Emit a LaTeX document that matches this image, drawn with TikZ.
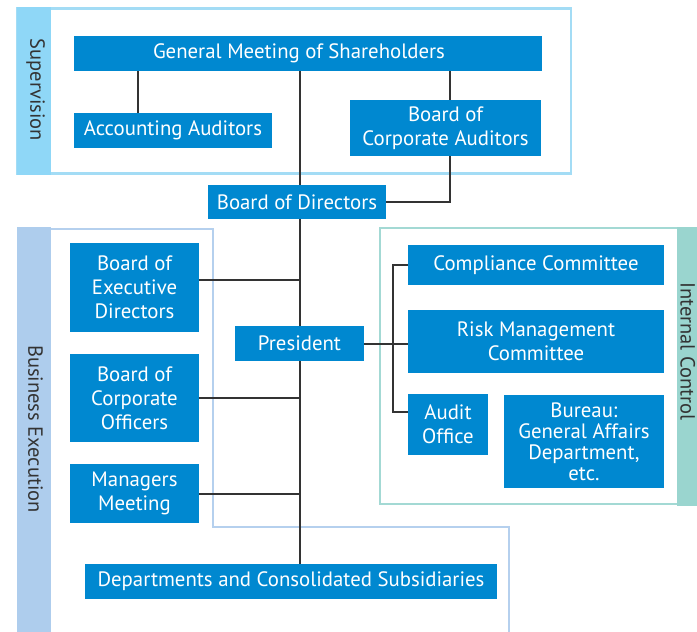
\documentclass[tikz,border=0pt]{standalone}
\usepackage{fontspec}
\setmainfont{PT Sans}
\definecolor{boxblue}{HTML}{0088D0}
\definecolor{supband}{HTML}{8FD7F7}
\definecolor{supline}{HTML}{A3DCF5}
\definecolor{beband}{HTML}{AECDED}
\definecolor{beline}{HTML}{B5D0EE}
\definecolor{icband}{HTML}{9AD5CF}
\definecolor{icline}{HTML}{A3D9D4}
\definecolor{linegray}{HTML}{333333}
\definecolor{labelgray}{HTML}{333333}
\begin{document}
\begin{tikzpicture}[x=1pt,y=-1pt,
  box/.style={fill=boxblue, text=white, inner sep=0pt, align=center,
    font=\fontsize{20.8}{23.8}\selectfont},
  conn/.style={draw=linegray, line width=2pt},
  grouplabel/.style={rotate=-90, inner sep=0pt, text=labelgray,
    font=\fontsize{20.5}{23}\selectfont}]
\useasboundingbox (0,0) rectangle (697,632);
% ---- group frames ----
\draw[supline, line width=2.5pt] (17,8.5) rectangle (571,173.5);
\fill[supband] (17,7) rectangle (51,175);
\draw[beline, line width=2.5pt] (17,229) -- (213,229) -- (213,527) -- (509,527) -- (509,640);
\fill[beband] (17,227) rectangle (51,640);
\draw[icline, line width=2.5pt] (380,228) rectangle (705,504);
\fill[icband] (677,226.5) rectangle (705,505.5);
\node[grouplabel] (lsup) at (35.5,90) {Supervision};
\node[grouplabel] (lbe) at (35.5,429) {Business Execution};
\node[grouplabel, anchor=base west] (lic) at (680.5,282) {Internal Control};
% ---- boxes ----
\node[box, minimum width=468pt, minimum height=35pt] (gm) at (308,53.5) {General Meeting of Shareholders\hspace*{18pt}};
\node[box, minimum width=198pt, minimum height=35pt] (aa) at (173,130.5) {Accounting Auditors};
\node[box, minimum width=191pt, minimum height=56pt] (bca) at (445.5,128) {Board of\\Corporate Auditors};
\node[box, minimum width=178pt, minimum height=34pt] (bod) at (297,202) {Board of Directors};
\node[box, minimum width=129pt, minimum height=89pt] (bed) at (134.5,287.5) {Board of\\Executive\\Directors};
\node[box, minimum width=129pt, minimum height=88pt] (bco) at (134.5,398) {Board of\\Corporate\\Officers};
\node[box, minimum width=129pt, minimum height=59pt] (mm) at (134.5,493.5) {Managers\\Meeting};
\node[box, minimum width=129pt, minimum height=35pt] (pres) at (299.5,343.5) {President};
\node[box, minimum width=412pt, minimum height=35pt] (dept) at (291,581.5) {Departments and Consolidated Subsidiaries};
\node[box, minimum width=256pt, minimum height=40pt] (cc) at (536,265) {Compliance Committee};
\node[box, minimum width=256pt, minimum height=63pt] (rmc) at (536,341.5) {Risk Management\\Committee};
\node[box, minimum width=80pt, minimum height=61pt] (ao) at (448,424.5) {Audit\\Office};
\node[box, minimum width=160pt, minimum height=93pt, font=\fontsize{20.8}{21}\selectfont] (bur) at (584,441.5) {Bureau:\\General Affairs\\Department,\\etc.};
% ---- connector guides ----
\coordinate (spine) at (300,0);
\coordinate (aax) at (138,0);
\coordinate (bcax) at (450,0);
\coordinate (brk) at (393,0);
\coordinate (bedy) at (0,280);
\coordinate (aoy) at (0,412);
% ---- connectors ----
\draw[conn] (gm.south -| spine) -- (bod.north -| spine);
\draw[conn] (bod.south -| spine) -- (pres.north -| spine);
\draw[conn] (pres.south -| spine) -- (dept.north -| spine);
\draw[conn] (gm.south -| aax) -- (aa.north -| aax);
\draw[conn] (gm.south -| bcax) -- (bca.north -| bcax);
\draw[conn] (bca.south -| bcax) |- (bod.east);
\draw[conn] (bed.east |- bedy) -- (spine |- bedy);
\draw[conn] (bco.east) -- (bco.east -| spine);
\draw[conn] (mm.east) -- (mm.east -| spine);
\draw[conn] (pres.east) -- (pres.east -| rmc.west);
\draw[conn] (cc.west) -- (cc.west -| brk) -- (brk |- aoy) -- (ao.west |- aoy);
\end{tikzpicture}
\end{document}
